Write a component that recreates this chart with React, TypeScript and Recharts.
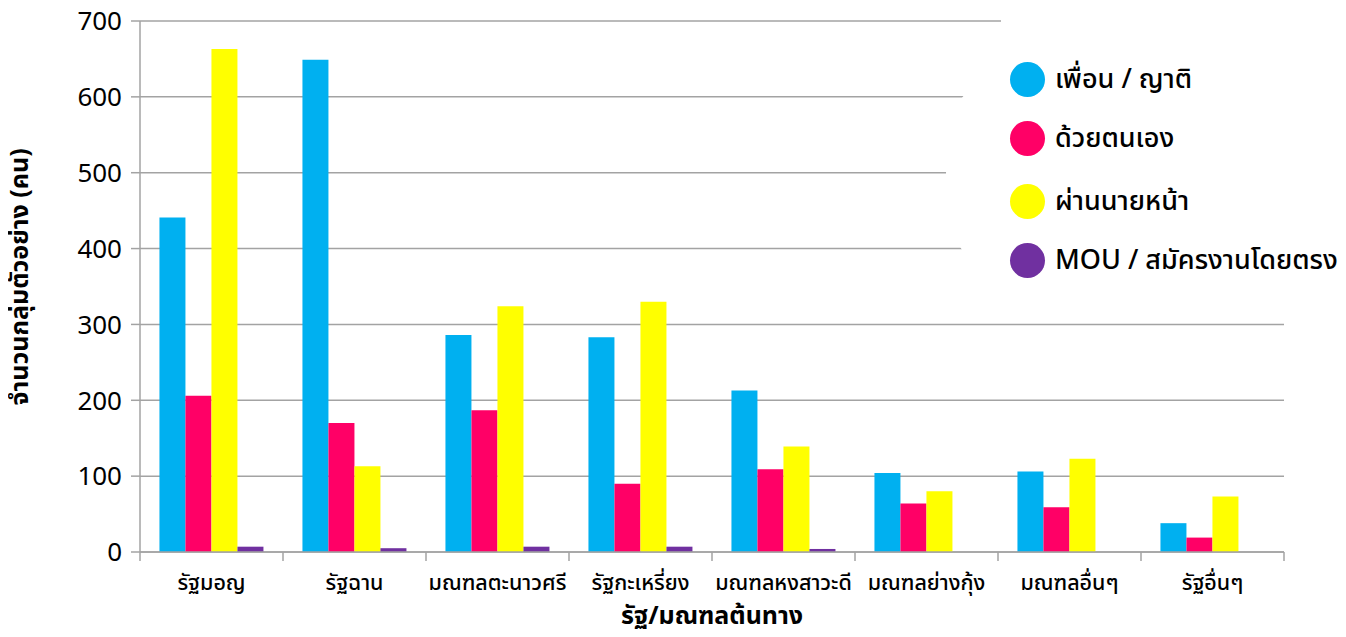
import { BarChart, Bar, XAxis, YAxis, CartesianGrid } from "recharts";

const origins = [
  "รัฐมอญ",
  "รัฐฉาน",
  "มณฑลตะนาวศรี",
  "รัฐกะเหรี่ยง",
  "มณฑลหงสาวะดี",
  "มณฑลย่างกุ้ง",
  "มณฑลอื่นๆ",
  "รัฐอื่นๆ",
];
const friendsRelatives = [441, 649, 286, 283, 213, 104, 106, 38];
const byThemselves = [206, 170, 187, 90, 109, 64, 59, 19];
const viaBroker = [663, 113, 324, 330, 139, 80, 123, 73];
const mouDirect = [7, 5, 7, 7, 4, 0, 0, 0];
const yTicks = [0, 100, 200, 300, 400, 500, 600, 700];

const series = [
  { key: "friends", name: "เพื่อน / ญาติ", color: "#00B0F0" },
  { key: "self", name: "ด้วยตนเอง", color: "#FF0066" },
  { key: "broker", name: "ผ่านนายหน้า", color: "#FFFF00" },
  { key: "mou", name: "MOU / สมัครงานโดยตรง", color: "#7030A0" },
];

const data = origins.map((name, i) => ({
  name,
  friends: friendsRelatives[i],
  self: byThemselves[i],
  broker: viaBroker[i],
  mou: mouDirect[i],
}));

const FONT = "'Noto Sans', 'Noto Sans Thai', sans-serif";
const GRID = "#a3a3a3";

function CategoryTick(props: any) {
  const { x, y, payload, index } = props;
  const half = payload.offset ?? 71.5;
  return (
    <g>
      <line x1={x - half} x2={x - half} y1={y - 9} y2={y} stroke={GRID} strokeWidth={1.5} />
      {index === origins.length - 1 && (
        <line x1={x + half} x2={x + half} y1={y - 9} y2={y} stroke={GRID} strokeWidth={1.5} />
      )}
      <text x={x} y={y + 29} textAnchor="middle" fontSize={21.5} fontFamily={FONT} fontWeight={500} fill="#000">
        {payload.value}
      </text>
    </g>
  );
}

export default function App() {
  return (
    <div style={{ position: "relative", width: 1346, height: 637, margin: -8, background: "#fff" }}>
      <BarChart
        width={1346}
        height={637}
        data={data}
        margin={{ top: 21, right: 62, bottom: 0, left: 0 }}
        barCategoryGap="13.6%"
        barGap={0}
      >
        <CartesianGrid vertical={false} stroke={GRID} strokeWidth={1.5} />
        <XAxis
          dataKey="name"
          height={85}
          tickLine={false}
          tickSize={9}
          tickMargin={0}
          axisLine={{ stroke: GRID, strokeWidth: 1.5 }}
          tick={<CategoryTick />}
          interval={0}
          label={{
            content: () => (
              <text x={712} y={624} textAnchor="middle" fontSize={25} fontWeight={700} fontFamily={FONT} fill="#000">
                รัฐ/มณฑลต้นทาง
              </text>
            ),
          }}
        />
        <YAxis
          width={140}
          domain={[0, 700]}
          ticks={yTicks}
          interval={0}
          tickSize={9}
          tickMargin={9}
          tick={{ fontSize: 26, fill: "#000", fontFamily: FONT }}
          tickLine={{ stroke: GRID, strokeWidth: 1.5 }}
          axisLine={{ stroke: GRID, strokeWidth: 1.5 }}
          label={{
            content: () => (
              <text
                x={0}
                y={0}
                transform="translate(28 277) rotate(-90)"
                textAnchor="middle"
                fontSize={25}
                fontWeight={700}
                fontFamily={FONT}
                fill="#000"
              >
                จำนวนกลุ่มตัวอย่าง (คน)
              </text>
            ),
          }}
        />
        {series.map((s) => (
          <Bar key={s.key} dataKey={s.key} name={s.name} fill={s.color} isAnimationActive={false} />
        ))}
      </BarChart>
      <div style={{ position: "absolute", left: 1001, top: 0, width: 345, height: 318, background: "#fff" }} />
      <div style={{ position: "absolute", left: 946, top: 88, width: 60, height: 172, background: "#fff", borderRadius: "50% 0 0 50%" }} />
      <div style={{ position: "absolute", left: 1010, top: 0, fontFamily: FONT }}>
        {series.map((s, i) => (
          <div
            key={s.key}
            style={{ position: "absolute", top: [79, 138, 201, 260][i] - 20, left: 0, height: 40, display: "flex", alignItems: "center", whiteSpace: "nowrap" }}
          >
            <span style={{ width: 35, height: 35, borderRadius: "50%", background: s.color, display: "inline-block" }} />
            <span style={{ marginLeft: 10, fontSize: 27, fontWeight: 500, color: "#000" }}>{s.name}</span>
          </div>
        ))}
      </div>
    </div>
  );
}
